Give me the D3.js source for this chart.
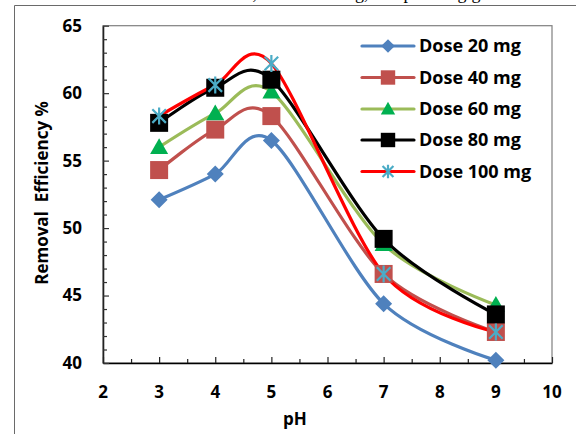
<!DOCTYPE html>
<html>
<head>
<meta charset="utf-8">
<script src="https://cdn.jsdelivr.net/npm/d3@7"></script>
<style>
  html, body { margin: 0; padding: 0; background: #fff; }
  svg { display: block; }
</style>
</head>
<body>
<svg id="chart" width="576" height="434"></svg>
<script>
// pH values tested and removal efficiency (%) for each adsorbent dose
const phValues = [3, 4, 5, 7, 9];
const seriesNames = ["Dose 20 mg", "Dose 40 mg", "Dose 60 mg", "Dose 80 mg", "Dose 100 mg"];
const dose20 = [52.1, 54.0, 56.5, 44.4, 40.2];
const dose40 = [54.3, 57.3, 58.3, 46.6, 42.3];
const dose60 = [56.0, 58.5, 60.1, 48.8, 44.3];
const dose80 = [57.8, 60.4, 61.0, 49.2, 43.6];
const dose100 = [58.3, 60.6, 62.2, 46.6, 42.3];
const xTickLabels = [2, 3, 4, 5, 6, 7, 8, 9, 10];
const yTickLabels = [40, 45, 50, 55, 60, 65];

const seriesValues = [dose20, dose40, dose60, dose80, dose100];
const styles = [
  { line: "#4F81BD", fill: "#4F81BD", marker: "diamond" },
  { line: "#C0504D", fill: "#C0504D", marker: "square" },
  { line: "#9BBB59", fill: "#00B050", marker: "triangle" },
  { line: "#000000", fill: "#000000", marker: "square" },
  { line: "#FF0000", fill: "#4BACC6", marker: "star" }
];

const svg = d3.select("#chart");
const font = "'Open Sans', 'Liberation Sans', sans-serif";

const plot = { left: 103, right: 552, top: 25.7, bottom: 363 };
const x = d3.scaleLinear().domain([2, 10]).range([plot.left, plot.right]);
const y = d3.scaleLinear().domain([40, 65]).range([plot.bottom, plot.top]);

// caption line of the surrounding document, running off the top edge
svg.append("text")
  .attr("x", 118).attr("y", -1)
  .attr("font-family", "'Liberation Serif', 'Times New Roman', serif")
  .attr("font-size", 18)
  .attr("fill", "#000")
  .text("total concentration, dose of 80 mg, and pH 5 mg/g.");

// outer frame (top and left edges)
svg.append("path")
  .attr("d", "M14.5,434 V5.5 H576")
  .attr("fill", "none").attr("stroke", "#6a6a6a").attr("stroke-width", 1);

// plot area border
svg.append("rect")
  .attr("x", plot.left).attr("y", plot.top)
  .attr("width", plot.right - plot.left).attr("height", plot.bottom - plot.top)
  .attr("fill", "none").attr("stroke", "#7f7f7f").attr("stroke-width", 1.2);

// x axis: ticks every 0.5, pointing into the plot
const xAxis = d3.axisBottom(x)
  .tickValues(d3.range(2, 10.01, 0.5))
  .tickSizeInner(-4).tickSizeOuter(0).tickFormat("");
const gx = svg.append("g").attr("transform", `translate(0,${plot.bottom})`).call(xAxis);
gx.select(".domain").attr("stroke", "#000").attr("stroke-width", 1.6);
gx.selectAll(".tick line").attr("stroke", "#222").attr("stroke-width", 1.2)
  .attr("y2", d => Number.isInteger(d) ? -6 : -4);

// y axis: ticks every 1, pointing into the plot
const yAxis = d3.axisLeft(y)
  .tickValues(d3.range(40, 65.01, 1))
  .tickSizeInner(-4).tickSizeOuter(0).tickFormat("");
const gy = svg.append("g").attr("transform", `translate(${plot.left},0)`).call(yAxis);
gy.select(".domain").attr("stroke", "#222").attr("stroke-width", 1.6);
gy.selectAll(".tick line").attr("stroke", "#333").attr("stroke-width", 1.2)
  .attr("x2", d => d % 5 === 0 ? 6 : 4);

// tick labels
svg.append("g").selectAll("text").data(xTickLabels).join("text")
  .attr("x", d => x(d)).attr("y", 398)
  .attr("text-anchor", "middle")
  .attr("font-family", font).attr("font-weight", "bold").attr("font-size", 17)
  .attr("fill", "#000")
  .text(d => d);

svg.append("g").selectAll("text").data(yTickLabels).join("text")
  .attr("x", 82).attr("y", d => y(d)).attr("dy", "0.35em")
  .attr("text-anchor", "end")
  .attr("font-family", font).attr("font-weight", "bold").attr("font-size", 17)
  .attr("fill", "#000")
  .text(d => d);

// axis titles
svg.append("text")
  .attr("x", 295).attr("y", 425)
  .attr("text-anchor", "middle")
  .attr("font-family", font).attr("font-weight", "bold").attr("font-size", 17)
  .text("pH");

svg.append("text")
  .attr("transform", "translate(48,193) rotate(-90)")
  .attr("text-anchor", "middle")
  .attr("font-family", font).attr("font-weight", "bold").attr("font-size", 17)
  .style("white-space", "pre")
  .text("Removal  Efficiency %");

// smoothed series lines
const line = d3.line()
  .x(d => x(d[0])).y(d => y(d[1]))
  .curve(d3.curveCardinal.tension(0.1));

const lineLayer = svg.append("g");
seriesValues.forEach((vals, i) => {
  const pts = phValues.map((p, j) => [p, vals[j]]);
  lineLayer.append("path")
    .datum(pts)
    .attr("d", line)
    .attr("fill", "none")
    .attr("stroke", styles[i].line)
    .attr("stroke-width", 3.2)
    .attr("stroke-linejoin", "round")
    .attr("stroke-linecap", "round");
});

// marker drawing helper
function drawMarker(g, kind, cx, cy, color, scale) {
  const s = scale || 1;
  if (kind === "diamond") {
    const r = 8.5 * s;
    g.append("path")
      .attr("d", `M${cx},${cy - r} L${cx + r},${cy} L${cx},${cy + r} L${cx - r},${cy} Z`)
      .attr("fill", color);
  } else if (kind === "square") {
    const h = 9 * s;
    g.append("rect")
      .attr("x", cx - h).attr("y", cy - h)
      .attr("width", 2 * h).attr("height", 2 * h)
      .attr("fill", color);
  } else if (kind === "triangle") {
    const h = 9 * s;
    g.append("path")
      .attr("d", `M${cx},${cy - h} L${cx + h},${cy + h * 0.75} L${cx - h},${cy + h * 0.75} Z`)
      .attr("fill", color);
  } else if (kind === "star") {
    const r = 8.5 * s;
    const d = r * 0.8;
    g.append("path")
      .attr("d", `M${cx},${cy - r} V${cy + r} M${cx - d},${cy - d} L${cx + d},${cy + d} M${cx - d},${cy + d} L${cx + d},${cy - d}`)
      .attr("fill", "none").attr("stroke", color).attr("stroke-width", 2.2);
  }
}

const markerLayer = svg.append("g");
seriesValues.forEach((vals, i) => {
  phValues.forEach((p, j) => {
    drawMarker(markerLayer, styles[i].marker, x(p), y(vals[j]), styles[i].fill, 1);
  });
});

// legend
const legend = svg.append("g");
const legendY = [46, 77.5, 109, 140, 171.5];
seriesNames.forEach((name, i) => {
  const row = legend.append("g");
  row.append("line")
    .attr("x1", 362).attr("x2", 414)
    .attr("y1", legendY[i]).attr("y2", legendY[i])
    .attr("stroke", styles[i].line).attr("stroke-width", 3.2)
    .attr("stroke-linecap", "round");
  drawMarker(row, styles[i].marker, 388, legendY[i], styles[i].fill, 0.8);
  row.append("text")
    .attr("x", 419).attr("y", legendY[i]).attr("dy", "0.35em")
    .attr("font-family", font).attr("font-weight", "bold").attr("font-size", 18)
    .attr("fill", "#000")
    .text(name);
});
</script>
</body>
</html>
